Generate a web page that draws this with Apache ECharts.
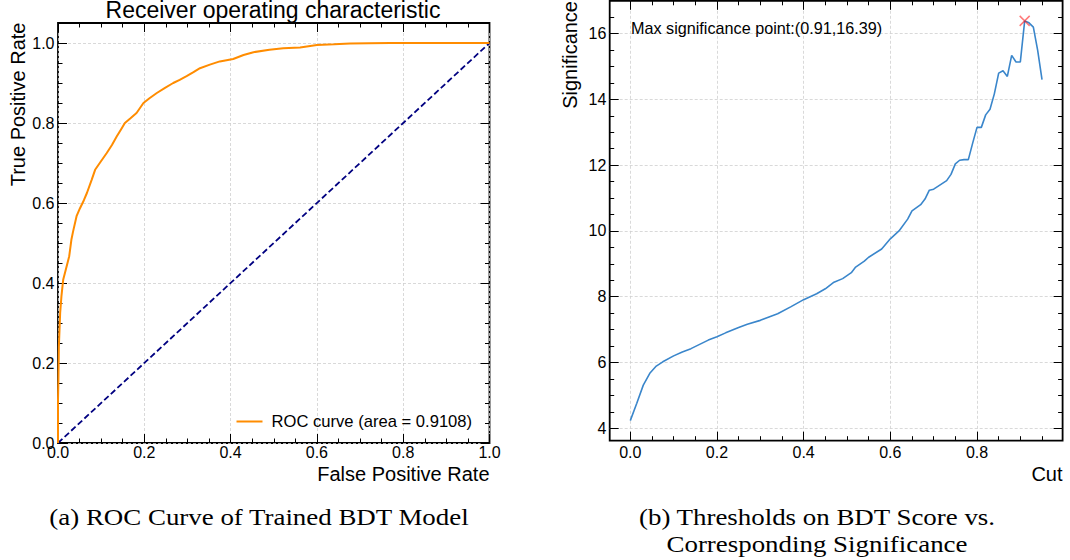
<!DOCTYPE html>
<html>
<head>
<meta charset="utf-8">
<script src="https://cdn.jsdelivr.net/npm/echarts@6/dist/echarts.min.js"></script>
<style>html,body{margin:0;padding:0;background:#fff}#c{width:1070px;height:560px}</style>
</head>
<body>
<div id="c"></div>
<script>
// ---- Data ----
const rocFpr = [0, 0, 0.001, 0.002, 0.005, 0.008, 0.012, 0.018, 0.026, 0.031, 0.035, 0.043, 0.051, 0.060, 0.067, 0.078, 0.086, 0.100, 0.113, 0.125, 0.136, 0.146, 0.155, 0.168, 0.182, 0.198, 0.212, 0.229, 0.248, 0.267, 0.282, 0.298, 0.314, 0.329, 0.352, 0.375, 0.406, 0.430, 0.453, 0.490, 0.522, 0.561, 0.600, 0.640, 0.677, 0.720, 0.770, 0.850, 0.920, 1.0];
const rocTpr = [0, 0.108, 0.160, 0.241, 0.325, 0.367, 0.408, 0.433, 0.467, 0.508, 0.529, 0.567, 0.587, 0.607, 0.625, 0.658, 0.683, 0.705, 0.725, 0.745, 0.766, 0.784, 0.800, 0.812, 0.825, 0.850, 0.862, 0.875, 0.888, 0.900, 0.908, 0.917, 0.927, 0.937, 0.946, 0.954, 0.960, 0.970, 0.977, 0.983, 0.987, 0.989, 0.995, 0.997, 0.999, 0.9995, 1.0, 1.0, 1.0, 1.0];
const chanceLine = [0, 1];
const rocArea = 0.9108;

const cutValues = [0.00, 0.015, 0.03, 0.045, 0.06, 0.075, 0.10, 0.12, 0.14, 0.16, 0.18, 0.20, 0.22, 0.25, 0.27, 0.30, 0.32, 0.34, 0.37, 0.40, 0.43, 0.45, 0.47, 0.49, 0.51, 0.52, 0.54, 0.55, 0.58, 0.60, 0.62, 0.64, 0.65, 0.67, 0.68, 0.69, 0.70, 0.73, 0.74, 0.75, 0.76, 0.77, 0.78, 0.79, 0.80, 0.81, 0.82, 0.83, 0.84, 0.85, 0.86, 0.87, 0.88, 0.89, 0.90, 0.91, 0.92, 0.93, 0.94, 0.95];
const significance = [4.23, 4.76, 5.31, 5.67, 5.89, 6.02, 6.20, 6.32, 6.42, 6.55, 6.68, 6.78, 6.90, 7.06, 7.16, 7.28, 7.38, 7.48, 7.69, 7.91, 8.09, 8.24, 8.44, 8.55, 8.73, 8.90, 9.08, 9.20, 9.45, 9.76, 10.00, 10.36, 10.61, 10.80, 10.97, 11.24, 11.27, 11.53, 11.72, 12.04, 12.15, 12.17, 12.17, 12.67, 13.15, 13.15, 13.53, 13.70, 14.17, 14.80, 14.87, 14.70, 15.34, 15.14, 15.14, 16.39, 16.33, 16.20, 15.49, 14.60];

const rocXTicks = [0, 0.2, 0.4, 0.6, 0.8, 1.0];
const rocYTicks = [0, 0.2, 0.4, 0.6, 0.8, 1.0];
const sigXTicks = [0, 0.2, 0.4, 0.6, 0.8];
const sigYTicks = [4, 6, 8, 10, 12, 14, 16];

// ---- helpers ----
const sans = '"Liberation Sans", Arial, Helvetica, sans-serif';
const serif = '"Liberation Serif", "Times New Roman", serif';
function steps(a, b, s) { const o = []; for (let v = a; v <= b + 1e-9; v += s) o.push(Math.round(v * 1e6) / 1e6); return o; }

let maxIdx = 0;
significance.forEach((v, i) => { if (v > significance[maxIdx]) maxIdx = i; });
const maxCut = cutValues[maxIdx], maxSig = significance[maxIdx];

const MAJ = 9, MIN = 4.5;
function axis(gridIndex, position, min, max, ticks, len, extra) {
  return Object.assign({
    type: 'value', gridIndex, position, min, max,
    axisLine: { show: false, onZero: false },
    axisTick: { show: true, inside: true, length: len, customValues: ticks, lineStyle: { color: '#000', width: 1 } },
    axisLabel: { show: false },
    splitLine: { show: false },
    minorTick: { show: false },
    minorSplitLine: { show: false }
  }, extra || {});
}
function label(ticks, margin, fmt) {
  return { show: true, customValues: ticks, margin, color: '#000', fontSize: 16, fontFamily: sans, formatter: fmt };
}
const splitDash = { show: true, lineStyle: { color: '#cfcfcf', width: 0.8, type: [3, 2] } };

const rX = [0, 1], rY = [0, 1.05];
const sX = [-0.0475, 0.9975], sY = [3.62, 17.0];

const fmt1 = v => v.toFixed(1);
const fmt0 = v => String(Math.round(v));

const xAxes = [
  axis(0, 'bottom', rX[0], rX[1], rocXTicks, MAJ, { axisLabel: label(rocXTicks, 1.5, fmt1), splitLine: splitDash }),
  axis(0, 'bottom', rX[0], rX[1], steps(0, 1, 0.05), MIN),
  axis(0, 'top', rX[0], rX[1], rocXTicks, MAJ),
  axis(0, 'top', rX[0], rX[1], steps(0, 1, 0.05), MIN),
  axis(1, 'bottom', sX[0], sX[1], sigXTicks, MAJ, { axisLabel: label(sigXTicks, 3.8, fmt1), splitLine: splitDash }),
  axis(1, 'bottom', sX[0], sX[1], steps(0, 0.95, 0.05), MIN),
  axis(1, 'top', sX[0], sX[1], sigXTicks, MAJ),
  axis(1, 'top', sX[0], sX[1], steps(0, 0.95, 0.05), MIN)
];
const yAxes = [
  axis(0, 'left', rY[0], rY[1], rocYTicks, MAJ, { axisLabel: label(rocYTicks, 3.5, fmt1), splitLine: splitDash }),
  axis(0, 'left', rY[0], rY[1], steps(0, 1.05, 0.05), MIN),
  axis(0, 'right', rY[0], rY[1], rocYTicks, MAJ),
  axis(0, 'right', rY[0], rY[1], steps(0, 1.05, 0.05), MIN),
  axis(1, 'left', sY[0], sY[1], sigYTicks, MAJ, { axisLabel: label(sigYTicks, 3.3, fmt0), splitLine: splitDash }),
  axis(1, 'left', sY[0], sY[1], steps(4, 16.5, 0.5), MIN),
  axis(1, 'right', sY[0], sY[1], sigYTicks, MAJ),
  axis(1, 'right', sY[0], sY[1], steps(4, 16.5, 0.5), MIN)
];

const rocName = 'ROC curve (area = ' + rocArea.toFixed(4) + ')';

function txt(text, x, y, size, opts) {
  const o = {
    type: 'text', x, y, silent: true, z: 100,
    style: Object.assign({ text, fill: '#000', fontSize: size, fontFamily: sans, align: 'center', verticalAlign: 'middle' }, (opts && opts.style) || {})
  };
  if (opts && opts.rotation !== undefined) o.rotation = opts.rotation;
  if (opts && opts.scaleX !== undefined) o.scaleX = opts.scaleX;
  return o;
}

const option = {
  animation: false,
  backgroundColor: '#fff',
  grid: [
    { left: 58, top: 23, width: 431.5, height: 420, show: true, borderColor: '#000', borderWidth: 1.8, backgroundColor: 'transparent', containLabel: false },
    { left: 609.7, top: 0.8, width: 452.9, height: 439.9, show: true, borderColor: '#000', borderWidth: 1.8, backgroundColor: 'transparent', containLabel: false }
  ],
  xAxis: xAxes,
  yAxis: yAxes,
  legend: {
    data: [{ name: rocName, icon: 'rect', itemStyle: { color: '#ff8c00' } }],
    left: 231.5, top: 408, orient: 'horizontal',
    itemWidth: 26, itemHeight: 2, selectedMode: false,
    textStyle: { fontFamily: sans, fontSize: 16.6, color: '#000', padding: [0, 0, 0, 4] }
  },
  series: [
    {
      name: rocName, type: 'line', xAxisIndex: 0, yAxisIndex: 0,
      data: rocFpr.map((x, i) => [x, rocTpr[i]]),
      symbol: 'none', showSymbol: false, z: 5,
      lineStyle: { color: '#ff8c00', width: 2 }, itemStyle: { color: '#ff8c00' }
    },
    {
      name: 'chance', type: 'line', xAxisIndex: 0, yAxisIndex: 0,
      data: chanceLine.map(v => [v, v]),
      symbol: 'none', showSymbol: false, z: 4,
      lineStyle: { color: '#000080', width: 1.8, type: [6, 3] }
    },
    {
      name: 'Significance', type: 'line', xAxisIndex: 4, yAxisIndex: 4,
      data: cutValues.map((x, i) => [x, significance[i]]),
      symbol: 'none', showSymbol: false, z: 5,
      lineStyle: { color: '#3a86cb', width: 1.6 }
    },
    {
      name: 'Max', type: 'scatter', xAxisIndex: 4, yAxisIndex: 4,
      data: [[maxCut, maxSig]],
      symbol: 'path://M0,0L10,10M10,0L0,10', symbolSize: 10, z: 10,
      itemStyle: { color: 'rgba(0,0,0,0)', borderColor: 'rgba(255,0,0,0.65)', borderWidth: 1.5 }
    }
  ],
  graphic: [
    txt('Receiver operating characteristic', 273, 10, 23),
    txt('True Positive Rate', 18, 22.5, 20, { rotation: Math.PI / 2, style: { align: 'right' } }),
    txt('False Positive Rate', 489.5, 473.7, 20, { style: { align: 'right' } }),
    txt('Significance', 570, 1, 20, { rotation: Math.PI / 2, style: { align: 'right' } }),
    txt('Cut', 1062.5, 473.7, 20, { style: { align: 'right' } }),
    txt('Max significance point:(' + maxCut.toFixed(2) + ',' + maxSig.toFixed(2) + ')', 631, 27.6, 16.2, { style: { align: 'left' } }),
    txt('(a) ROC Curve of Trained BDT Model', 259, 517, 23, { scaleX: 1.17, style: { fontFamily: serif } }),
    txt('(b) Thresholds on BDT Score vs.\nCorresponding Significance', 817, 530.5, 23, { scaleX: 1.17, style: { fontFamily: serif, lineHeight: 26.7 } })
  ]
};

const chart = echarts.init(document.getElementById('c'), null, { renderer: 'svg', width: 1070, height: 560 });
chart.setOption(option);
</script>
</body>
</html>
